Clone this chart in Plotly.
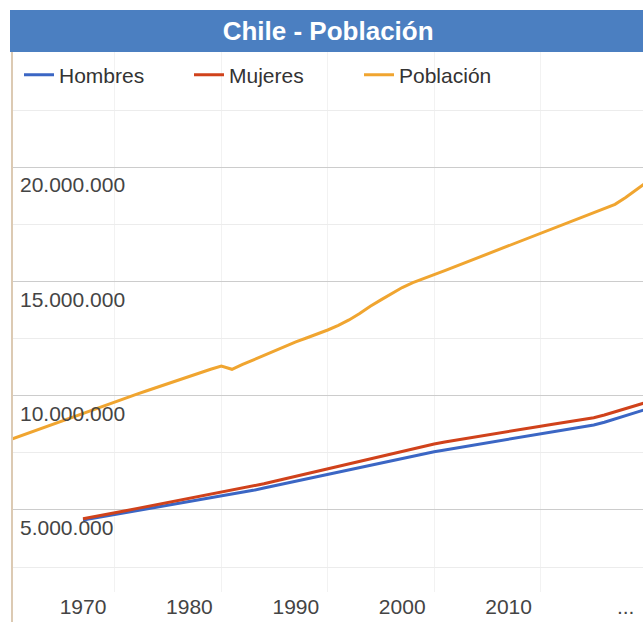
import plotly.graph_objects as go

# Años y series de población de Chile (millones de personas, leídos año a año)
anios_pob = list(range(1963, 2024))
poblacion = [
    8.05, 8.22, 8.39, 8.56, 8.72, 8.88, 9.05, 9.22, 9.39, 9.56,
    9.72, 9.90, 10.06, 10.22, 10.38, 10.54, 10.70, 10.86, 11.02, 11.16,
    11.30, 11.16, 11.37, 11.57, 11.78, 11.99, 12.18, 12.36, 12.53, 12.70,
    12.88, 13.08, 13.32, 13.60, 13.92, 14.20, 14.48, 14.74, 14.95, 15.14,
    15.30, 15.48, 15.66, 15.85, 16.03, 16.21, 16.38, 16.56, 16.74, 16.92,
    17.10, 17.29, 17.47, 17.66, 17.84, 18.03, 18.20, 18.38, 18.68, 19.02,
    19.36,
]

anios_sexo = list(range(1970, 2024))
mujeres = [
    4.62, 4.70, 4.79, 4.88, 4.97, 5.06, 5.15, 5.24, 5.33, 5.42,
    5.50, 5.59, 5.68, 5.77, 5.86, 5.95, 6.04, 6.15, 6.26, 6.37,
    6.48, 6.59, 6.70, 6.81, 6.92, 7.03, 7.14, 7.25, 7.36, 7.47,
    7.58, 7.69, 7.79, 7.89, 7.98, 8.06, 8.14, 8.22, 8.29, 8.37,
    8.44, 8.52, 8.59, 8.67, 8.74, 8.82, 8.89, 8.96, 9.04, 9.16,
    9.30, 9.44, 9.58, 9.72,
]
hombres = [
    4.56, 4.64, 4.72, 4.80, 4.88, 4.96, 5.04, 5.12, 5.20, 5.28,
    5.36, 5.44, 5.52, 5.60, 5.68, 5.77, 5.86, 5.96, 6.06, 6.16,
    6.26, 6.36, 6.46, 6.56, 6.66, 6.76, 6.86, 6.96, 7.06, 7.16,
    7.26, 7.36, 7.46, 7.55, 7.63, 7.71, 7.79, 7.87, 7.95, 8.02,
    8.10, 8.17, 8.25, 8.32, 8.40, 8.48, 8.56, 8.64, 8.72, 8.84,
    8.98, 9.12, 9.27, 9.42,
]

# Etiquetas de los ejes
anios_etiqueta = [1970, 1980, 1990, 2000, 2010, 2021]
texto_anios = ["1970", "1980", "1990", "2000", "2010", "..."]
valores_eje_y = [5_000_000, 10_000_000, 15_000_000, 20_000_000]
valores_menores_y = [2_500_000, 7_500_000, 12_500_000, 17_500_000, 22_500_000]
rejilla_anios = [1973, 1983, 1993, 2003, 2013]

M = 1_000_000
W, H = 643, 622
ML, MR, MT, MB = 13, 0, 52, 30
PW = W - ML - MR
PH = H - MT - MB
FUENTE = "Arial, Liberation Sans, sans-serif"


def px_x(px):
    return (px - ML) / PW


def px_y(py):
    return (H - MB - py) / PH


def miles(v):
    return f"{v:,d}".replace(",", ".")


fig = go.Figure()
fig.add_trace(go.Scatter(x=anios_sexo, y=[v * M for v in hombres], name="Hombres",
                         mode="lines", line=dict(color="#3b66c4", width=3)))
fig.add_trace(go.Scatter(x=anios_sexo, y=[v * M for v in mujeres], name="Mujeres",
                         mode="lines", line=dict(color="#d0421b", width=3)))
fig.add_trace(go.Scatter(x=anios_pob, y=[v * M for v in poblacion], name="Población",
                         mode="lines", line=dict(color="#f0a530", width=3)))

# Etiquetas del eje Y dentro del área de trazado, bajo cada línea de rejilla
anotaciones = [
    dict(x=px_x(18), xref="paper", y=v, yref="y", text=miles(v), showarrow=False,
         xanchor="left", yanchor="top", yshift=-4,
         font=dict(family=FUENTE, size=21, color="#444"))
    for v in valores_eje_y
]

fig.update_layout(
    width=W, height=H,
    margin=dict(l=ML, r=MR, t=MT, b=MB, pad=0),
    paper_bgcolor="white", plot_bgcolor="white",
    separators=",.",
    font=dict(family=FUENTE, size=21, color="#444"),
    showlegend=True,
    legend=dict(orientation="h", x=px_x(19), y=px_y(75), xanchor="left", yanchor="middle",
                bgcolor="rgba(0,0,0,0)", font=dict(size=21, color="#333"),
                entrywidth=125, entrywidthmode="pixels", itemclick=False),
    title=dict(text="<b>Chile - Población</b>", x=px_x(334.5), xanchor="center",
               y=1 - 31 / H, yanchor="middle",
               font=dict(size=26, color="white", family=FUENTE)),
    xaxis=dict(range=[1963.42, 2022.63], tickvals=anios_etiqueta, ticktext=texto_anios,
               showgrid=False, zeroline=False, showline=False, ticks="",
               minor=dict(tickvals=rejilla_anios, showgrid=True, gridcolor="#f2f2f2", gridwidth=1)),
    yaxis=dict(range=[1.41 * M, 25.05 * M], tickvals=valores_eje_y, showticklabels=False,
               showgrid=True, gridcolor="#cccccc", gridwidth=1,
               zeroline=False, showline=False, ticks="",
               minor=dict(tickvals=valores_menores_y, showgrid=True, gridcolor="#ececec", gridwidth=1)),
    annotations=anotaciones,
    shapes=[
        dict(type="rect", xref="paper", yref="paper", x0=px_x(10), x1=px_x(643),
             y0=px_y(52), y1=px_y(10), fillcolor="#4b7fc1", line=dict(width=0), layer="above"),
        dict(type="line", xref="paper", yref="paper", x0=px_x(12), x1=px_x(12),
             y0=px_y(52), y1=px_y(622), line=dict(color="#dccab3", width=2)),
    ],
)

fig.write_html("out.html")
